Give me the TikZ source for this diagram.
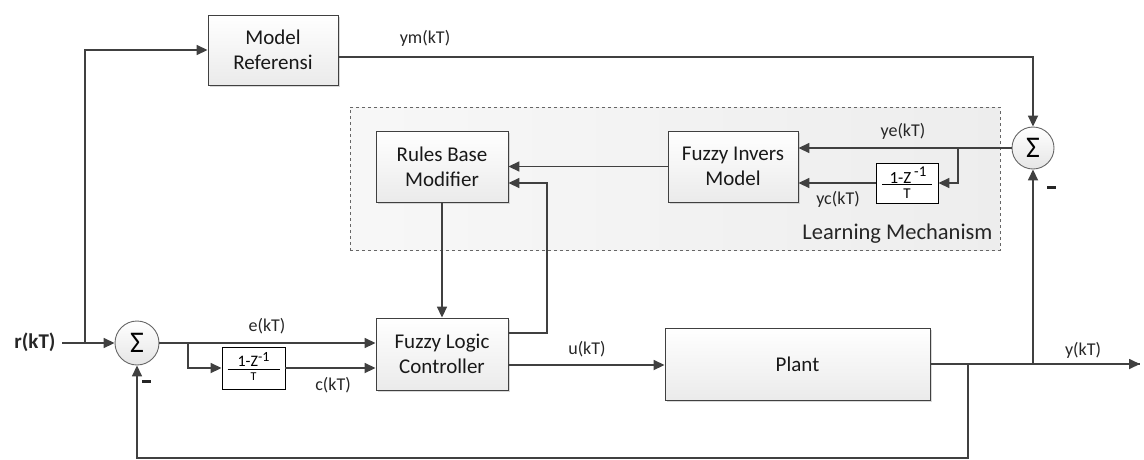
\documentclass[tikz,border=0pt]{standalone}
\usepackage{fontspec}
\setmainfont{Carlito}
\usetikzlibrary{arrows.meta,shadows,calc}
\begin{document}
\begin{tikzpicture}[x=1pt,y=-1pt,
  line/.style={draw=black!75, line width=1.7pt},
  arr/.style={line, -{Triangle[length=11pt,width=10pt]}},
  block/.style={draw=black!75, line width=0.9pt, top color=white, bottom color=black!8,
    drop shadow={shadow xshift=2pt, shadow yshift=-2pt, fill=black!25, opacity=0.6},
    align=center, font=\fontsize{21}{25}\selectfont, text=black!90, inner sep=0pt},
  smallbox/.style={draw=black, line width=0.9pt, fill=white, inner sep=0pt},
  sumnode/.style={circle, draw=black!60, line width=0.9pt, top color=white, bottom color=black!10,
    minimum size=44pt, inner sep=0pt, font=\fontsize{30}{30}\selectfont},
  lbl/.style={font=\fontsize{18}{20}\selectfont, text=black!85},
  minus/.style={fill=black!85, minimum width=9pt, minimum height=3pt, inner sep=0pt}]
\useasboundingbox (0,0) rectangle (1144,459);

% learning mechanism frame
\node[draw=black!60, dashed, line width=0.6pt, left color=black!3, right color=black!7,
  minimum width=650pt, minimum height=143pt, inner sep=0pt] (lm) at (675,178.5) {};
\node[lbl, font=\fontsize{22.5}{24}\selectfont, anchor=east] (lmtxt) at (996,234) {Learning Mechanism};

% blocks
\node[block, minimum width=130pt, minimum height=70pt] (mr) at (273,50) {Model\\Referensi};
\node[block, minimum width=132pt, minimum height=71pt] (rbm) at (442,166.5) {Rules Base\\Modifier};
\node[block, minimum width=130pt, minimum height=71pt] (fim) at (733,166.5) {Fuzzy Invers\\Model};
\node[block, minimum width=132pt, minimum height=72pt] (flc) at (442,354) {Fuzzy Logic\\Controller};
\node[block, minimum width=265pt, minimum height=72pt] (plant) at (797.5,364) {Plant};

% derivative blocks
\node[smallbox, minimum width=62pt, minimum height=40pt] (d1) at (907,183) {};
\draw[line width=0.8pt] ($(d1.center)+(-25,1)$) -- ($(d1.center)+(25,1)$);
\node[font=\fontsize{17}{17}\selectfont] (d1n) at ($(d1.center)+(1,-8)$) {1-Z\,\raisebox{7pt}{\fontsize{15}{15}\selectfont -1}};
\node[font=\fontsize{15}{15}\selectfont] (d1d) at ($(d1.center)+(0,11)$) {T};

\node[smallbox, minimum width=63pt, minimum height=42pt] (d2) at (253.5,368) {};
\draw[line width=0.8pt] ($(d2.center)+(-26,1)$) -- ($(d2.center)+(26,1)$);
\node[font=\fontsize{16}{16}\selectfont] (d2n) at ($(d2.center)+(0,-9)$) {1-Z\raisebox{5pt}{\fontsize{14}{14}\selectfont -1}};
\node[font=\fontsize{12}{12}\selectfont] (d2d) at ($(d2.center)+(0,9)$) {T};

% summing junctions
\node[sumnode] (s1) at (137,343) {Σ};
\node[sumnode, minimum size=42pt] (s2) at (1033,148) {Σ};

% coordinates
\coordinate (rin) at (62,343);
\coordinate (rb) at (85,343);
\coordinate (eb) at (188,343);
\coordinate (yb) at (1033,364);
\coordinate (fb) at (968,364);
\coordinate (yout) at (1140,364);
\coordinate (yeb) at (958,148);
\coordinate (flcr) at (547,333);

% signal labels
\node[font=\bfseries\fontsize{21}{24}\selectfont, text=black!85, anchor=east] (r) at (59,342) {r(kT)};
\node[lbl] (ym) at (425,38) {ym(kT)};
\node[lbl] (ye) at (903,131) {ye(kT)};
\node[lbl] (yc) at (838,199) {yc(kT)};
\node[lbl] (e) at (267,326) {e(kT)};
\node[lbl] (c) at (333,385) {c(kT)};
\node[lbl] (u) at (587,349) {u(kT)};
\node[lbl] (y) at (1083,350) {y(kT)};
\node[minus] (m1) at (146,381) {};
\node[minus] (m2) at (1051,187) {};

% connectors
\draw[arr] (rin) -- (s1.west);
\draw[arr] (rb) |- (mr.west);
\draw[arr] (mr.east |- 0,57) -| (s2.north);
\draw[arr] (s1.east) -- (eb) -- (flc.west |- eb);
\draw[arr] (eb) |- (d2.west);
\draw[arr] (d2.east) -- (flc.west |- d2.east);
\draw[arr] (flc.east |- 0,365) -- (plant.west |- 0,365);
\draw[line] (plant.east |- yb) -- (yout);
\draw[arr] (fb) -- (yout);
\draw[arr] (yb) -- (s2.south);
\draw[arr] (fb) -- (968,458) -| (s1.south);
\draw[arr] (s2.west) -- (fim.east |- s2.west);
\draw[arr] (yeb) |- (d1.east);
\draw[arr] (d1.west) -- (fim.east |- d1.west);
\draw[arr] (fim.west) -- (rbm.east);
\draw[arr] (rbm.south) -- (flc.north);
\draw[arr] (flc.east |- flcr) -- (flcr) |- (rbm.east |- 0,183);
\end{tikzpicture}
\end{document}
